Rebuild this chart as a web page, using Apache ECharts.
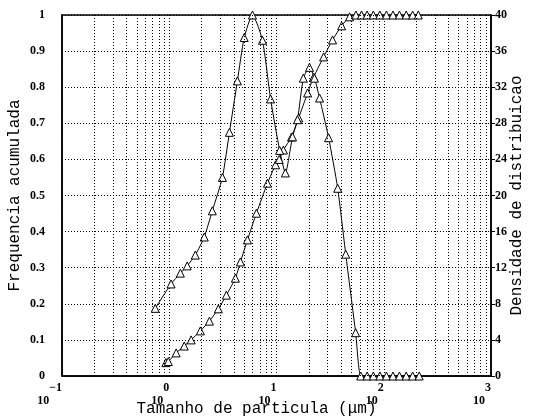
<!DOCTYPE html>
<html><head><meta charset="utf-8">
<script src="https://cdn.jsdelivr.net/npm/echarts@6/dist/echarts.min.js"></script>
<style>html,body{margin:0;padding:0;background:#fff}#c{width:540px;height:418px}</style>
</head><body><div id="c"></div>
<script>
// Cumulative frequency (left axis): particle size (um), value
var cumX = [0.93, 0.98, 1.16, 1.38, 1.6, 1.95, 2.37, 2.87, 3.41, 4.14, 4.61, 5.36, 6.5, 8.24, 9.8, 10.6, 11.6, 13.8, 16.1, 19.5, 22.2, 27.5, 33.3, 40.5, 48, 55, 62, 70, 80, 92, 106, 122, 140, 162, 186, 210];
var cumY = [0.037, 0.040, 0.064, 0.083, 0.100, 0.125, 0.152, 0.186, 0.224, 0.271, 0.316, 0.377, 0.451, 0.534, 0.585, 0.600, 0.626, 0.662, 0.715, 0.784, 0.828, 0.884, 0.931, 0.970, 0.995, 1.0, 1.0, 1.0, 1.0, 1.0, 1.0, 1.0, 1.0, 1.0, 1.0, 1.0];
// Distribution density (right axis)
var denX = [0.74, 1.04, 1.27, 1.47, 1.75, 2.12, 2.52, 3.13, 3.64, 4.32, 5.0, 5.97, 7.4, 8.8, 10.7, 12.1, 14.1, 15.7, 17.8, 20.3, 22.6, 25.2, 30.6, 37.2, 44.2, 54.7, 61, 70, 80, 92, 106, 122, 140, 162, 186, 214];
var denY = [7.5, 10.2, 11.4, 12.2, 13.4, 15.4, 18.3, 22.0, 27.0, 32.7, 37.5, 40.0, 37.2, 30.7, 25.0, 22.5, 26.5, 28.4, 33.0, 34.2, 33.0, 30.8, 26.4, 20.8, 13.5, 4.8, 0, 0, 0, 0, 0, 0, 0, 0, 0, 0];
var xTicks = [0.1, 1, 10, 100, 1000];
var leftName = 'Frequencia acumulada';
var rightName = 'Densidade de distribuicao';
var xName = 'Tamanho de particula (\u03bcm)';

function zip(a, b) { return a.map(function (v, i) { return [v, b[i]]; }); }
var gridX = [];
for (var d = 0; d < 4; d++) for (var k = 2; k <= 9; k++) gridX.push(k * Math.pow(10, d - 1));
var dot = [1, 2];
var lblFont = { fontFamily: 'Liberation Serif', fontWeight: 'bold', fontSize: 12, color: '#000' };
var nameFont = { fontFamily: 'Liberation Mono', fontSize: 16, color: '#000' };

var chart = echarts.init(document.getElementById('c'), null, { renderer: 'canvas' });
chart.setOption({
  animation: false,
  backgroundColor: '#fff',
  grid: { left: 62, right: 49, top: 15, bottom: 42, outerBoundsMode: 'none', containLabel: false, show: true, borderColor: '#000', borderWidth: 1.5 },
  xAxis: {
    type: 'log', logBase: 10, min: 0.1, max: 1000,
    name: xName, nameLocation: 'middle', nameGap: 25, nameMoveOverlap: false,
    nameTextStyle: Object.assign({ padding: [0, 40, 0, 0] }, nameFont),
    axisLine: { show: true, lineStyle: { color: '#000', width: 1.5 } },
    axisTick: { show: false },
    splitLine: { show: true, lineStyle: { color: '#000', type: dot, width: 1 } },
    axisLabel: {
      margin: 6, align: 'right',
      formatter: function (v) { var e = Math.round(Math.log10(v)); return '{b|10}{s|' + (e < 0 ? '\u2212' + (-e) : e) + '}'; },
      rich: {
        b: { fontFamily: 'Liberation Serif', fontWeight: 'bold', fontSize: 12, color: '#000', verticalAlign: 'bottom' },
        s: { fontFamily: 'Liberation Serif', fontWeight: 'bold', fontSize: 12, color: '#000', verticalAlign: 'bottom', padding: [0, 0, 13, 0] }
      }
    }
  },
  yAxis: [{
    type: 'value', min: 0, max: 1, interval: 0.1,
    name: leftName, nameLocation: 'middle', nameGap: 39, nameMoveOverlap: false, nameRotate: 90, nameTextStyle: nameFont,
    axisLine: { show: true, lineStyle: { color: '#000', width: 1.5 } },
    axisTick: { show: false },
    splitLine: { show: true, lineStyle: { color: '#000', type: dot, width: 1 } },
    axisLabel: Object.assign({ margin: 17 }, lblFont)
  }, {
    type: 'value', min: 0, max: 40, interval: 4, position: 'right',
    name: rightName, nameLocation: 'middle', nameGap: 18, nameMoveOverlap: false, nameRotate: 90, nameTextStyle: nameFont,
    axisLine: { show: true, lineStyle: { color: '#000', width: 1.5 } },
    axisTick: { show: true, length: 4, lineStyle: { color: '#000' } },
    splitLine: { show: false },
    axisLabel: Object.assign({ margin: 4 }, lblFont)
  }],
  series: [{
    type: 'line', yAxisIndex: 0, data: zip(cumX, cumY), smooth: 0.2,
    symbol: 'triangle', symbolSize: 8,
    lineStyle: { color: '#000', width: 1 },
    itemStyle: { color: '#fff', borderColor: '#000', borderWidth: 1 },
    markLine: {
      silent: true, symbol: 'none', label: { show: false },
      lineStyle: { color: '#000', type: dot, width: 1 },
      data: gridX.map(function (v) { return { xAxis: v }; })
    }
  }, {
    type: 'line', yAxisIndex: 1, data: zip(denX, denY), smooth: 0.2,
    symbol: 'triangle', symbolSize: 8,
    lineStyle: { color: '#000', width: 1 },
    itemStyle: { color: '#fff', borderColor: '#000', borderWidth: 1 }
  }]
});
</script></body></html>
